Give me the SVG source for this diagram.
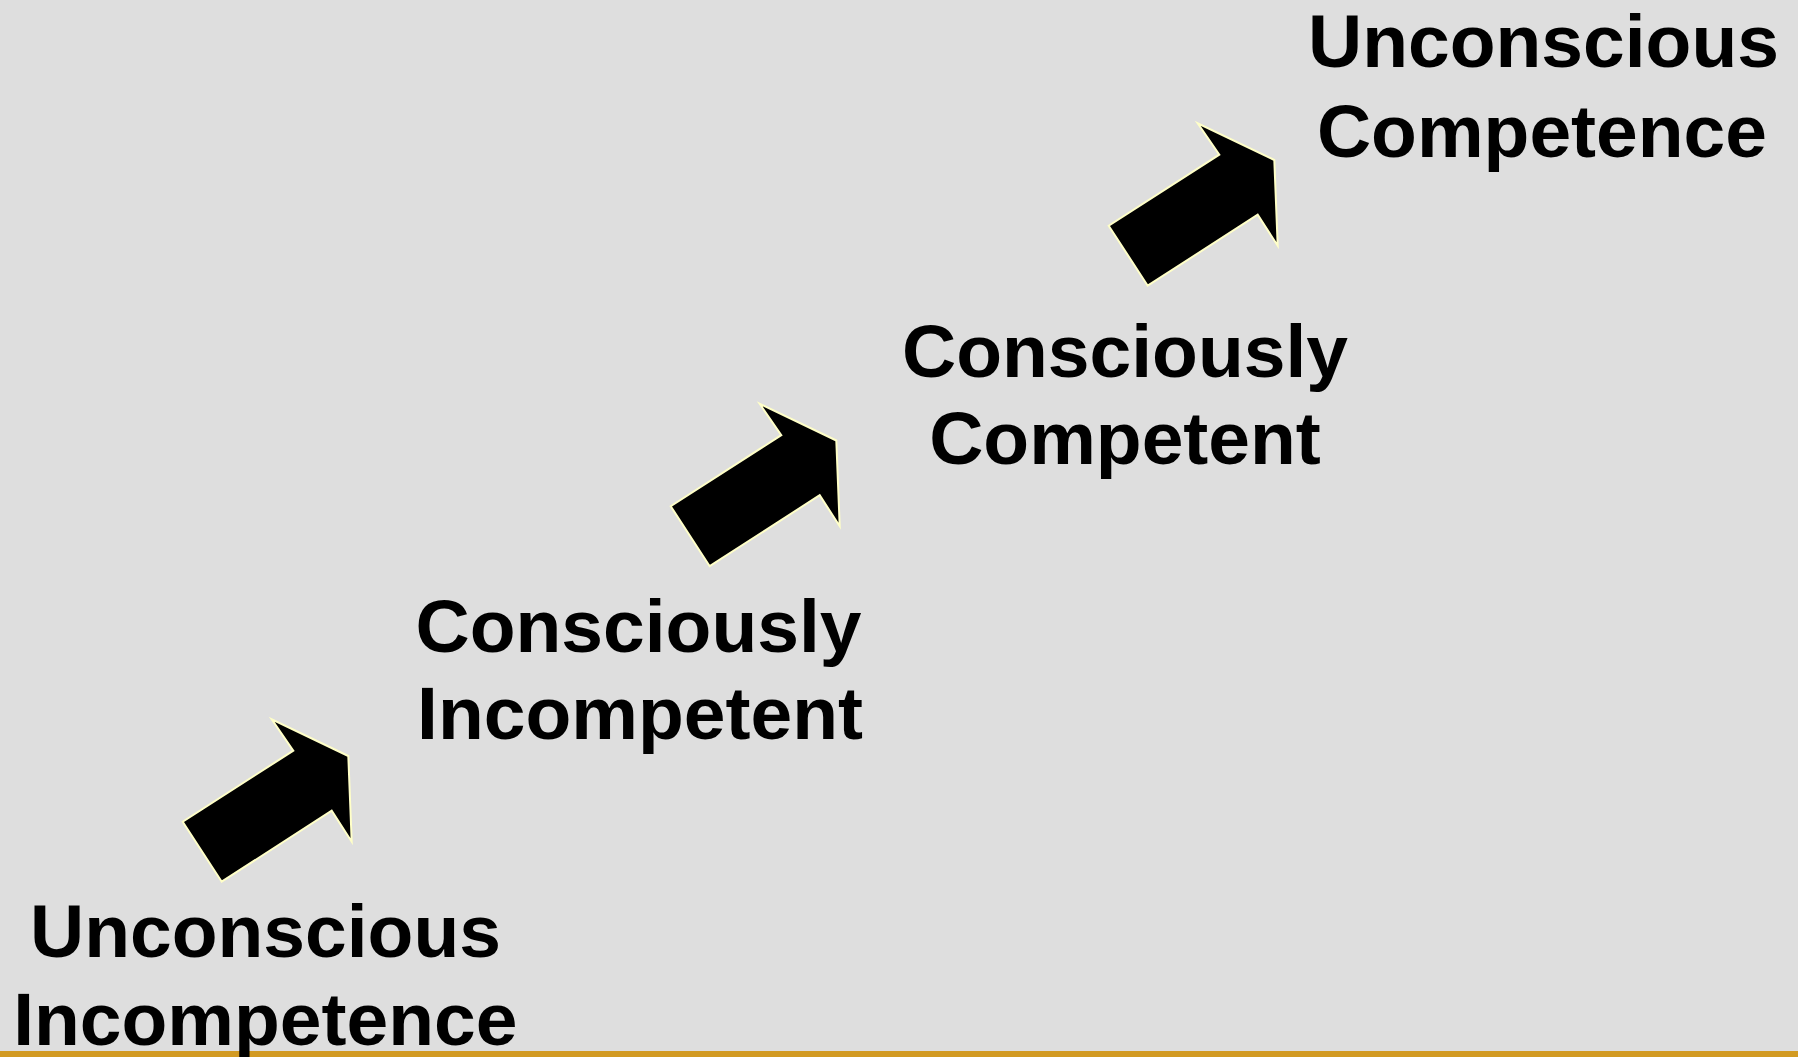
<svg xmlns="http://www.w3.org/2000/svg" width="1798" height="1057" viewBox="0 0 1798 1057">
<defs>
<style>
.lbl{font-family:"Liberation Sans",Arial,sans-serif;font-weight:bold;font-size:75px;fill:#000;text-anchor:middle}
.arr{fill:#000;stroke:#FFFFC8;stroke-width:2;stroke-linejoin:miter}
</style>
<polygon id="arrowShape" points="182.7,821.7 221.7,881.7 331.7,810.7 351.7,841.7 348.3,756 271.7,719.3 293.3,750.7"/>
</defs>
<rect x="0" y="0" width="1798" height="1057" fill="#DEDEDE"/>
<rect x="0" y="1051" width="1798" height="6" fill="#D29A22"/>
<g id="connectors">
<use href="#arrowShape" class="arr"/>
<use href="#arrowShape" class="arr" transform="translate(488,-315.5)"/>
<use href="#arrowShape" class="arr" transform="translate(926,-596)"/>
</g>
<g id="node-unconscious-incompetence">
<text class="lbl" x="265.5" y="956.7">Unconscious</text>
<text class="lbl" x="265.3" y="1045">Incompetence</text>
</g>
<g id="node-consciously-incompetent">
<text class="lbl" x="638.5" y="651.7">Consciously</text>
<text class="lbl" x="640" y="739.3">Incompetent</text>
</g>
<g id="node-consciously-competent">
<text class="lbl" x="1125" y="377.3">Consciously</text>
<text class="lbl" x="1125" y="464">Competent</text>
</g>
<g id="node-unconscious-competence">
<text class="lbl" x="1543.5" y="66.7">Unconscious</text>
<text class="lbl" x="1542" y="156.7">Competence</text>
</g>
</svg>
